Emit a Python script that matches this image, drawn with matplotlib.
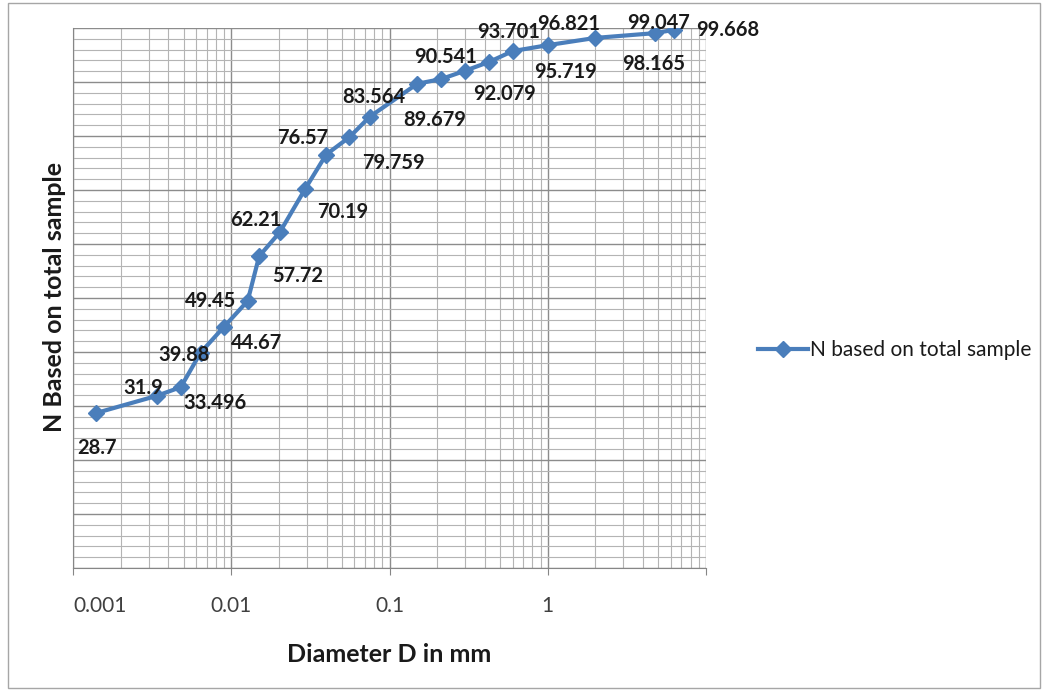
import matplotlib
matplotlib.use("Agg")
import matplotlib.pyplot as plt
from matplotlib.ticker import LogLocator, MultipleLocator, NullFormatter
from matplotlib.patches import Rectangle

# ---- data ----
diameter_mm = [0.0014, 0.0034, 0.0048, 0.0064, 0.009, 0.0127, 0.015, 0.0203,
               0.0293, 0.0398, 0.0557, 0.075, 0.15, 0.212, 0.3, 0.425, 0.6,
               1.0, 2.0, 4.75, 6.3]
n_percent = [28.7, 31.9, 33.496, 39.88, 44.67, 49.45, 57.72, 62.21,
             70.19, 76.57, 79.759, 83.564, 89.679, 90.541, 92.079, 93.701,
             95.719, 96.821, 98.165, 99.047, 99.668]
value_labels = ["28.7", "31.9", "33.496", "39.88", "44.67", "49.45", "57.72",
                "62.21", "70.19", "76.57", "79.759", "83.564", "89.679",
                "90.541", "92.079", "93.701", "95.719", "96.821", "98.165",
                "99.047", "99.668"]
x_tick_values = [0.001, 0.01, 0.1, 1]
x_tick_labels = ["0.001", "0.01", "0.1", "1"]
series_name = "N based on total sample"
x_title = "Diameter D in mm"
y_title = "N Based on total sample"

# label offsets in pixels (dx right, dy down) relative to marker
label_offsets = [(1, 35), (-14, -8), (34, 16), (-17, 2), (33, 16), (-37, 0),
                 (39, 20), (-24, -12), (38, 23), (-23, -17), (44, 26),
                 (4, -20), (17, 36), (4, -22), (39, 23), (20, -30),
                 (53, 21), (21, -21), (58, 26), (4, -10), (53, 0)]

plt.rcParams['font.family'] = ['Lato', 'DejaVu Sans']

W, H = 1045, 694
fig = plt.figure(figsize=(W / 100, H / 100), dpi=100)
fig.patch.set_facecolor('white')

# outer chart border
fig.patches.append(Rectangle((8 / W, 1 - 688 / H), (1040 - 8) / W, (688 - 3) / H,
                             transform=fig.transFigure, fill=False,
                             edgecolor='#a6a6a6', linewidth=1.0))

ax = fig.add_axes([73 / W, 1 - 568 / H, (706 - 73) / W, (568 - 28) / H])
ax.set_xscale('log')
ax.set_xlim(0.001, 10)
ax.set_ylim(0, 100)

ax.xaxis.set_minor_locator(LogLocator(base=10, subs=range(2, 10), numticks=20))
ax.xaxis.set_minor_formatter(NullFormatter())
ax.yaxis.set_major_locator(MultipleLocator(10))
ax.yaxis.set_minor_locator(MultipleLocator(2))
ax.tick_params(axis='y', which='both', length=0, labelleft=False)
ax.tick_params(axis='x', which='major', length=5, color='#868686', direction='out',
               labelsize=15, labelcolor='#404040', pad=15)
ax.tick_params(axis='x', which='minor', length=0)

ax.set_xticks(x_tick_values + [10])
ax.set_xticklabels(x_tick_labels + [""])
lbls = ax.get_xticklabels()
lbls[0].set_horizontalalignment('left')

ax.grid(True, which='major', color='#8c8c8c', linewidth=1.0)
ax.grid(True, which='minor', color='#b4b4b4', linewidth=0.8)
ax.set_axisbelow(True)
for s in ['top', 'right']:
    ax.spines[s].set_visible(False)
ax.spines['left'].set_color('#868686')
ax.spines['bottom'].set_color('#868686')

ax.plot(diameter_mm, n_percent, color='#4a7ebb', linewidth=3.0,
        marker='D', markersize=8, markerfacecolor='#4a7ebb',
        markeredgecolor='#4a7ebb', label=series_name, zorder=3)

for xv, yv, txt, (dx, dy) in zip(diameter_mm, n_percent, value_labels, label_offsets):
    ax.annotate(txt, (xv, yv), xytext=(dx, -dy), textcoords='offset pixels',
                ha='center', va='center', fontsize=14.5, fontweight='bold',
                color='#1a1a1a', zorder=4, annotation_clip=False)

fig.text(389 / W, 1 - 655 / H, x_title, ha='center', va='center',
         fontsize=18, fontweight='bold', color='#1a1a1a')
fig.text(55 / W, 1 - 297 / H, y_title, rotation=90,
         ha='center', va='center', fontsize=18, fontweight='bold', color='#1a1a1a')

fig.legend(loc='center left', bbox_to_anchor=(748 / W, 1 - 350 / H), frameon=False,
           fontsize=15, handlelength=2.4, handletextpad=0.1, borderpad=0,
           labelcolor='#1a1a1a')

fig.savefig("out.png", dpi=100)
